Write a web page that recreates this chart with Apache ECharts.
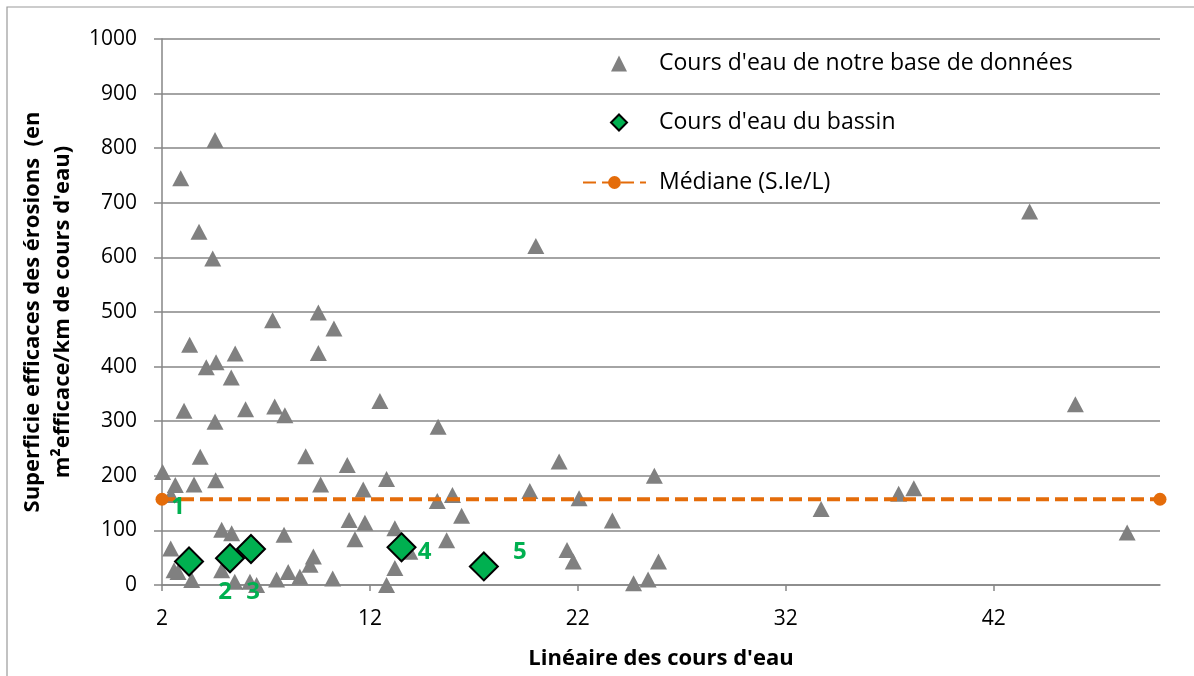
<!DOCTYPE html>
<html>
<head>
<meta charset="utf-8">
<script src="https://cdn.jsdelivr.net/npm/echarts@6/dist/echarts.min.js"></script>
<style>
  html, body { margin: 0; padding: 0; background: #fff; }
  #chart { width: 1194px; height: 676px; }
</style>
</head>
<body>
<div id="chart"></div>
<script>
// Cours d'eau de notre base de données : [linéaire, superficie]
const baseX = [2.03, 2.43, 2.64, 2.90, 2.42, 2.58, 2.77, 3.43, 3.06, 3.33, 3.54, 3.78, 3.84, 4.13, 4.44, 4.55,
  4.55, 4.58, 4.60, 4.87, 4.87, 5.33, 5.35, 5.50, 5.52, 6.02, 6.23, 6.55, 7.32, 7.42, 7.51, 7.87,
  7.91, 8.07, 8.63, 8.91, 9.12, 9.28, 9.52, 9.52, 9.63, 10.21, 10.27, 10.91, 11.0, 11.28, 11.68, 11.76,
  12.48, 12.8, 12.8, 13.2, 13.2, 13.92, 15.24, 15.28, 15.69, 15.97, 16.41, 19.69, 19.98, 21.10, 21.48,
  21.78, 22.06, 23.66, 24.68, 25.38, 25.68, 25.88, 33.70, 37.43, 38.16, 43.73, 45.93, 48.42];
const baseY = [207, 165, 183, 745, 67, 27, 24, 9, 319, 440, 184, 647, 235, 399, 598, 815,
  299, 192, 408, 101, 27, 380, 95, 6, 424, 322, 6, 0, 485, 327, 10, 92,
  311, 24, 15, 236, 37, 52, 499, 425, 184, 12, 470, 220, 119, 84, 175, 114,
  337, 194, 0, 104, 31, 61, 154, 290, 82, 165, 127, 172, 621, 226, 64,
  43, 159, 118, 3, 10, 200, 43, 139, 167, 177, 684, 331, 96];

// Cours d'eau du bassin
const bassinX = [3.30, 5.27, 6.28, 13.52, 17.48];
const bassinY = [43, 49, 66, 69, 34];
const bassinNoms = ['1', '2', '3', '4', '5'];

// Médiane (S.Ie/L)
const medianeX = [2, 50];
const medianeY = [157, 157];

const xTicks = [2, 12, 22, 32, 42];

// décalage des étiquettes (px), comme dans l'original
const labelOffsets = [[-11, -54], [-5, 34], [2, 43], [23, 5], [36, -14]];

const font = '"Open Sans", sans-serif';
const gris = '#868686';
const nomBase = "Cours d'eau de notre base de données";
const nomBassin = "Cours d'eau du bassin";
const nomMediane = 'Médiane (S.Ie/L)';

const chart = echarts.init(document.getElementById('chart'));

const legendText = { fontFamily: font, fontSize: 23, color: '#000' };

const option = {
  backgroundColor: '#fff',
  animation: false,
  textStyle: { fontFamily: font },
  graphic: [{
    type: 'rect',
    shape: { x: 7, y: 7, width: 1200, height: 700 },
    style: { fill: 'none', stroke: '#9a9a9a', lineWidth: 1.2 },
    z: -1
  }],
  grid: { left: 162, right: 34, top: 39, bottom: 91 },
  legend: [
    {
      orient: 'vertical',
      left: 605,
      top: 47,
      itemWidth: 16,
      itemHeight: 16,
      itemGap: 36,
      textStyle: Object.assign({ padding: [0, 0, 0, 27] }, legendText),
      data: [nomBase, nomBassin]
    },
    {
      orient: 'vertical',
      left: 577,
      top: 166,
      itemWidth: 63,
      itemHeight: 16,
      textStyle: Object.assign({ padding: [0, 0, 0, 8] }, legendText),
      data: [nomMediane]
    }
  ],
  xAxis: {
    type: 'value',
    min: 2,
    max: 50,
    interval: 10,
    name: "Linéaire des cours d'eau",
    nameLocation: 'middle',
    nameGap: 63,
    nameTextStyle: { fontFamily: font, fontSize: 22, fontWeight: 'bold', color: '#000' },
    axisLine: { show: true, lineStyle: { color: gris, width: 1.5 } },
    axisTick: { show: true, length: 6, inside: false, customValues: xTicks, lineStyle: { color: gris, width: 1.5 } },
    axisLabel: { customValues: xTicks, margin: 24, fontSize: 21, color: '#000', fontFamily: font },
    splitLine: { show: false }
  },
  yAxis: {
    type: 'value',
    min: 0,
    max: 1000,
    interval: 100,
    name: "Superficie efficaces des érosions  (en\nm²efficace/km de cours d'eau)",
    nameLocation: 'middle',
    nameGap: 84,
    nameTextStyle: { fontFamily: font, fontSize: 22, fontWeight: 'bold', color: '#000', lineHeight: 30 },
    axisLine: { show: true, lineStyle: { color: gris, width: 1.5 } },
    axisTick: { show: true, length: 8, lineStyle: { color: gris, width: 1.5 } },
    axisLabel: { margin: 25, fontSize: 21, color: '#000', fontFamily: font, formatter: (v) => String(v) },
    splitLine: { show: true, lineStyle: { color: gris, width: 1.5 } }
  },
  series: [
    {
      name: nomBase,
      type: 'scatter',
      symbol: 'triangle',
      symbolSize: [17, 16],
      itemStyle: { color: '#808080', opacity: 1 },
      data: baseX.map((x, i) => [x, baseY[i]]),
      z: 2
    },
    {
      name: nomMediane,
      type: 'line',
      symbol: 'circle',
      symbolSize: 13,
      showAllSymbol: true,
      clip: false,
      itemStyle: { color: '#E46C0A' },
      lineStyle: { color: '#E46C0A', width: 4, type: [13, 6] },
      data: medianeX.map((x, i) => [x, medianeY[i]]),
      z: 3
    },
    {
      name: nomBassin,
      type: 'scatter',
      symbol: 'diamond',
      symbolSize: 28,
      itemStyle: { color: '#00B050', borderColor: '#000', borderWidth: 2, opacity: 1 },
      label: {
        show: true,
        formatter: (p) => bassinNoms[p.dataIndex],
        position: 'inside',
        color: '#00B050',
        fontSize: 24,
        fontWeight: 'bold',
        fontFamily: font
      },
      data: bassinX.map((x, i) => ({
        value: [x, bassinY[i]],
        label: { offset: labelOffsets[i] }
      })),
      z: 4
    }
  ]
};

chart.setOption(option);
</script>
</body>
</html>
